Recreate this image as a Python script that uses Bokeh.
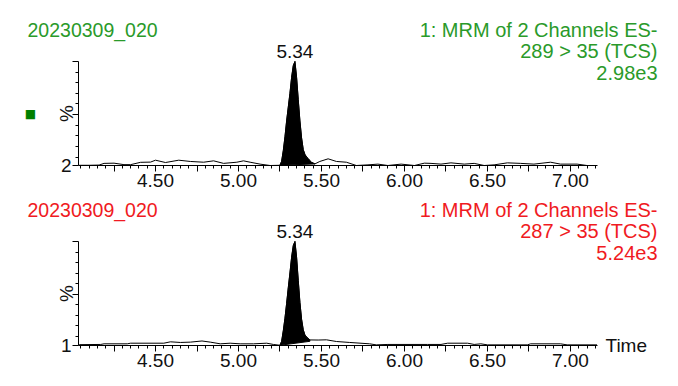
import math
from bokeh.plotting import figure
from bokeh.layouts import column
from bokeh.models import Range1d, FixedTicker, CustomJSTickFormatter, Label
from bokeh.embed import file_html
from bokeh.resources import INLINE

FONT = "Liberation Sans"
GREEN = "#2a9a2a"
RED = "#f01a22"
FS = "19px"
FS_HEAD = "20px"
FS_NAME = "19.5px"

# ---------------- data ----------------
sample_name = "20230309_020"
top_header = ["1: MRM of 2 Channels ES-", "289 > 35 (TCS)", "2.98e3"]
bot_header = ["1: MRM of 2 Channels ES-", "287 > 35 (TCS)", "5.24e3"]
peak_label = "5.34"
peak_rt = 5.34
axis_title = "Time"
y_title = "%"

x_major = [4.25, 4.50, 4.75, 5.00, 5.25, 5.50, 5.75, 6.00, 6.25, 6.50, 6.75, 7.00]
x_minor = [round(4.05 + 0.05 * i, 2) for i in range(63)]
y_minor = [10, 20, 30, 40, 60, 70, 80, 90]

top_t = [4.04, 4.10, 4.16, 4.19, 4.25, 4.31, 4.35, 4.41, 4.47, 4.50, 4.56, 4.64,
         4.71, 4.79, 4.85, 4.91, 4.99, 5.03, 5.07, 5.13, 5.19, 5.25, 5.26, 5.27,
         5.28, 5.29, 5.30, 5.31, 5.32, 5.33, 5.34, 5.35, 5.36, 5.37, 5.38, 5.39,
         5.40, 5.41, 5.42, 5.43, 5.44, 5.46, 5.49, 5.54, 5.59, 5.65, 5.71, 5.78,
         5.84, 5.90, 5.98, 6.06, 6.12, 6.16, 6.22, 6.28, 6.36, 6.42, 6.48, 6.54,
         6.62, 6.70, 6.78, 6.88, 6.94, 7.04, 7.10, 7.16]
top_y = [2.2, 2.2, 2.4, 4.0, 4.2, 2.8, 2.8, 5.0, 5.2, 7.0, 4.8, 7.0,
         5.8, 5.1, 6.4, 4.0, 5.1, 6.4, 5.1, 3.3, 2.0, 2.2, 6.0, 16.0,
         29.0, 44.0, 57.0, 70.0, 85.0, 96.0, 100.0, 85.0, 64.0, 44.0, 28.0, 17.0,
         12.5, 10.0, 8.5, 6.5, 5.0, 3.5, 5.8, 8.3, 5.8, 5.1, 2.0, 2.6,
         3.3, 2.0, 3.3, 2.0, 4.2, 4.0, 3.3, 4.5, 3.3, 4.0, 2.0, 2.6,
         4.5, 4.0, 3.3, 5.1, 3.3, 3.3, 2.0, 2.0]
top_fill = (5.25, 5.46)
top_fill_base = (2.2, 3.5)
top_ymin = 2

bot_t = [4.04, 4.17, 4.19, 4.33, 4.35, 4.55, 4.59, 4.65, 4.71, 4.78, 4.83, 4.89,
         4.95, 5.01, 5.09, 5.17, 5.21, 5.25, 5.26, 5.27, 5.28, 5.29, 5.30, 5.31,
         5.32, 5.33, 5.34, 5.35, 5.36, 5.37, 5.38, 5.39, 5.40, 5.41, 5.42, 5.43,
         5.48, 5.53, 5.59, 5.67, 5.79, 5.83, 5.90, 6.14, 6.22, 6.26, 6.38, 6.42,
         6.46, 6.50, 6.74, 6.76, 6.94, 6.98, 7.16]
bot_y = [1.8, 2.0, 2.6, 2.6, 3.2, 3.2, 4.5, 3.9, 4.2, 5.3, 4.2, 2.6,
         3.2, 2.6, 2.6, 3.2, 2.0, 1.2, 5.0, 15.0, 27.0, 41.0, 56.0, 70.0,
         85.0, 96.0, 100.0, 85.0, 63.0, 42.0, 26.0, 16.0, 11.0, 9.0, 7.7, 6.3,
         6.2, 6.4, 4.8, 3.9, 2.6, 1.6, 2.0, 2.0, 2.0, 3.2, 3.2, 2.0,
         2.6, 1.6, 1.6, 2.6, 2.6, 1.6, 1.6]
bot_fill = (5.25, 5.43)
bot_fill_base = (1.2, 5.0)
bot_ymin = 1

# ---------------- layout ----------------
X0, X1 = 4.036, 7.163   # extent of the drawn time axis
AX_PX = 78              # page x of the y axis
AX_PX_END = 597         # page x of the end of the time axis
W = 678
PXU = (AX_PX_END - AX_PX) / (X1 - X0)
FRAME_H = 104


def make_panel(t, y, fill_rng, fill_base, ymin, color, header, height,
               fig_top_page, frame_top_page, show_square, show_time):
    base_page = frame_top_page + FRAME_H
    s = (100 - ymin) / FRAME_H

    def tx(px):
        return X0 + (px - AX_PX) / PXU

    def ty(py):
        return ymin + (base_page - py) * s

    p = figure(width=W, height=height, output_backend="svg", toolbar_location=None,
               x_range=Range1d(tx(0), tx(W)),
               y_range=Range1d(ty(fig_top_page + height), ty(fig_top_page)),
               min_border=0)
    p.outline_line_color = None
    p.grid.visible = False
    p.background_fill_color = "white"
    p.border_fill_color = "white"

    # x axis
    xa = p.xaxis[0]
    xa.fixed_location = ymin
    xa.bounds = (X0, X1)
    xa.ticker = FixedTicker(ticks=x_major, minor_ticks=x_minor)
    xa.formatter = CustomJSTickFormatter(
        code="return (Math.abs(tick*2 - Math.round(tick*2)) < 1e-6) ? tick.toFixed(2) : '';")
    xa.major_tick_in = 0
    xa.major_tick_out = 6
    xa.minor_tick_in = 0
    xa.minor_tick_out = 3
    xa.major_label_standoff = 2
    xa.major_label_text_font = FONT
    xa.major_label_text_font_size = FS
    xa.major_label_text_color = "#111111"
    xa.axis_line_color = "black"

    ya = p.yaxis[0]
    ya.fixed_location = X0
    ya.bounds = (ymin, 100)
    ya.ticker = FixedTicker(ticks=[ymin, 50, 100], minor_ticks=y_minor)
    ya.formatter = CustomJSTickFormatter(code="return tick < 10 ? tick.toFixed(0) : '';")
    ya.major_tick_in = 0
    ya.major_tick_out = 6
    ya.minor_tick_in = 0
    ya.minor_tick_out = 3
    ya.major_label_standoff = 1
    ya.major_label_text_font = FONT
    ya.major_label_text_font_size = FS
    ya.major_label_text_color = "#111111"
    ya.axis_line_color = "black"

    # integrated peak fill
    fx = [a for a in t if fill_rng[0] <= a <= fill_rng[1]]
    fy = [b for a, b in zip(t, y) if fill_rng[0] <= a <= fill_rng[1]]
    p.patch(fx + [fill_rng[1], fill_rng[0]], fy + [fill_base[1], fill_base[0]],
            fill_color="black", line_color="black", line_width=1)
    p.line(t, y, line_color="black", line_width=1)

    def lab(xv, py, text, col, align="left", angle=0.0, size=FS, font=FONT):
        p.add_layout(Label(x=xv, y=ty(py), text=text, text_color=col,
                           text_align=align, text_baseline="middle",
                           text_font=font, text_font_size=size, angle=angle))

    lab(tx(27), frame_top_page - 32, sample_name, color, size=FS_NAME)
    lab(tx(657), frame_top_page - 32, header[0], color, "right", size=FS_HEAD)
    lab(tx(657), frame_top_page - 11, header[1], color, "right", size=FS_HEAD)
    lab(tx(657), frame_top_page + 11, header[2], color, "right", size=FS_HEAD)
    lab(peak_rt, frame_top_page - 10, peak_label, "#111111", "center")
    lab(tx(66), frame_top_page + 52, y_title, "#111111", "center", math.pi / 2)
    if show_square:
        lab(tx(30), frame_top_page + 52, "\u25A0", "#008000", "center",
            size="12px", font="DejaVu Sans")
    if show_time:
        lab(tx(605), base_page, axis_title, "#111111", "left")
    return p


p1 = make_panel(top_t, top_y, top_fill, top_fill_base, top_ymin, GREEN, top_header,
                198, 0, 61, True, False)
p2 = make_panel(bot_t, bot_y, bot_fill, bot_fill_base, bot_ymin, RED, bot_header,
                186, 198, 241, False, True)

layout = column(p1, p2, spacing=0)
open("out.html", "w").write(file_html(layout, INLINE))
